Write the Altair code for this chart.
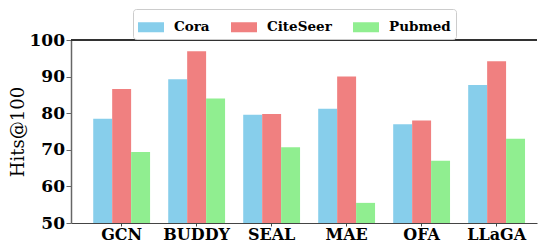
import altair as alt
import pandas as pd

methods = ["GCN", "BUDDY", "SEAL", "MAE", "OFA", "LLaGA"]
datasets = ["Cora", "CiteSeer", "Pubmed"]
cora = [78.5, 89.3, 79.6, 81.2, 77.0, 87.7]
citeseer = [86.6, 96.9, 79.8, 90.0, 78.0, 94.2]
pubmed = [69.4, 84.0, 70.7, 55.5, 67.0, 73.0]
colors = ["#87CEEB", "#F08080", "#90EE90"]
y_ticks = [50, 60, 70, 80, 90, 100]

rows = []
for ds, vals in zip(datasets, [cora, citeseer, pubmed]):
    for m, v in zip(methods, vals):
        rows.append({"Method": m, "Dataset": ds, "Value": v})
df = pd.DataFrame(rows)

W, H = 466, 183
SERIF = "DejaVu Serif"

bars = alt.Chart(df).mark_bar().encode(
    x=alt.X("Method:N", sort=methods,
            scale=alt.Scale(paddingInner=0.242, paddingOuter=0.228, align=0.65),
            axis=alt.Axis(title=None, labelAngle=0, labelFont=SERIF, labelFontWeight="bold",
                          labelFontSize=16, labelColor="black", labelPadding=0,
                          domainColor="#444", domainWidth=1.2, tickSize=3, tickColor="#444")),
    xOffset=alt.XOffset("Dataset:N", sort=datasets, scale=alt.Scale(paddingInner=0, paddingOuter=0)),
    y=alt.Y("Value:Q", scale=alt.Scale(domain=[50, 100], nice=False, zero=False),
            axis=alt.Axis(title="Hits@100", values=y_ticks, grid=False, labelFont=SERIF,
                          labelFontWeight="bold", labelFontSize=17, labelColor="black",
                          titleFont=SERIF, titleFontWeight="normal", titleFontSize=18,
                          titleColor="black", titlePadding=2, labelPadding=1.5,
                          domainColor="#666", domainWidth=1.5, tickSize=5, tickColor="#666")),
    y2=alt.datum(50),
    color=alt.Color("Dataset:N", sort=datasets,
                    scale=alt.Scale(domain=datasets, range=colors),
                    legend=alt.Legend(title=None, orient="none", direction="horizontal",
                                      legendX=62, legendY=-31,
                                      symbolType="M-1,-0.385H1V0.385H-1Z", symbolSize=676,
                                      symbolStrokeWidth=0, labelFont=SERIF, labelFontWeight="bold",
                                      labelFontSize=13.5, labelColor="black", labelOffset=10,
                                      columnPadding=21, padding=5, strokeColor="#ccc",
                                      cornerRadius=3, fillColor="white")),
)

top = alt.Chart(df).mark_rule(color="#333", strokeWidth=1.3).encode(
    x=alt.value(0), x2=alt.value(W), y=alt.value(0)
)

chart = alt.layer(bars, top).properties(
    width=W, height=H, padding={"left": 1, "top": 0, "right": 0, "bottom": 0}
).configure_view(stroke=None)

chart.save("out.html", embed_options={"renderer": "svg", "actions": False})
